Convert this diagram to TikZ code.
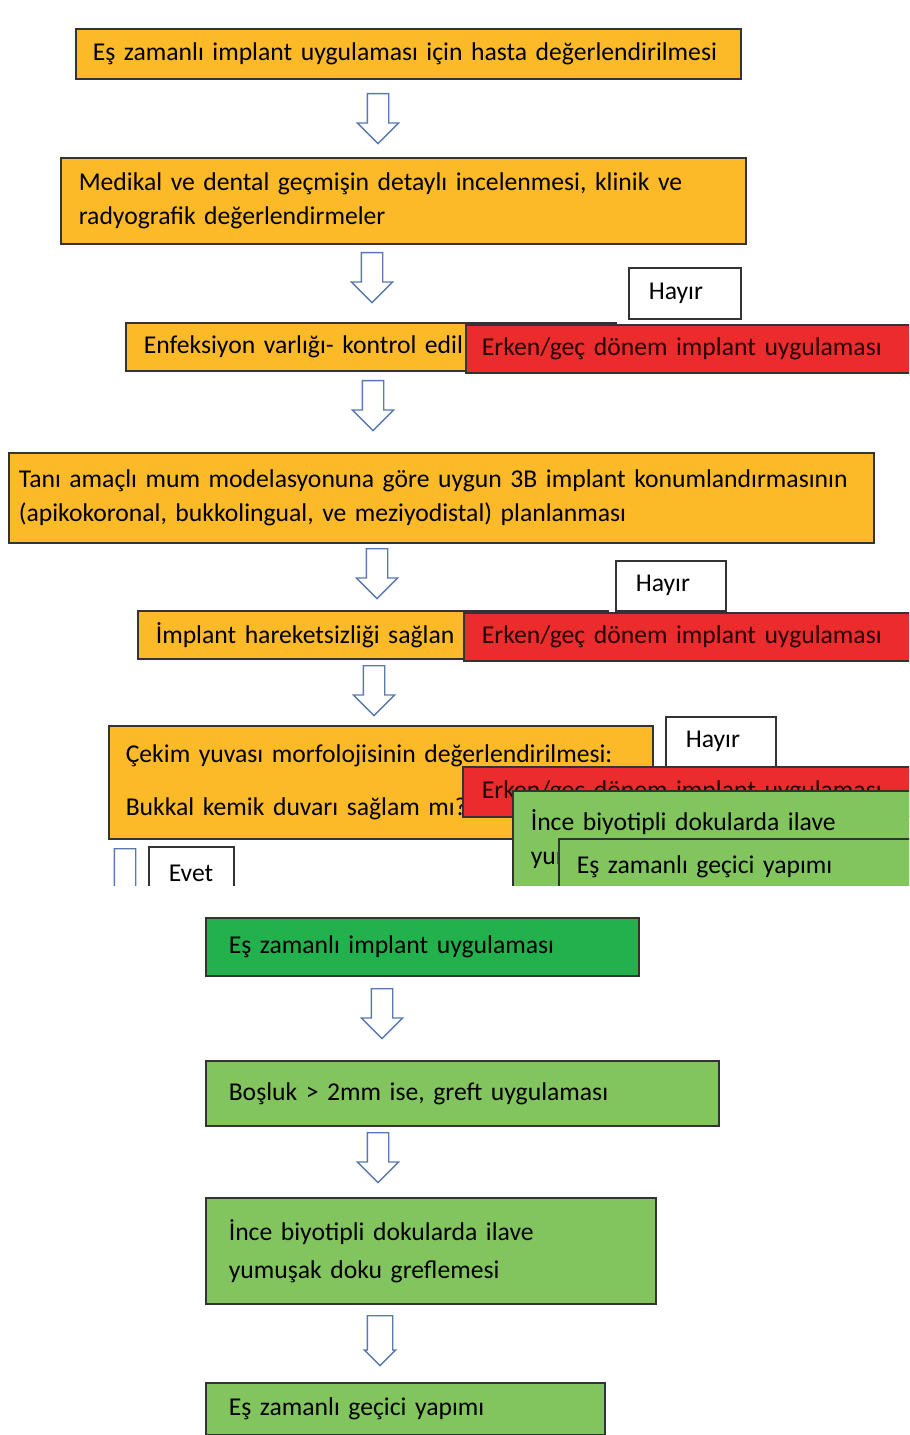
\documentclass[tikz,border=0pt]{standalone}
\usepackage{fontspec}
\setmainfont{Carlito}
\usetikzlibrary{shapes.arrows}
\newlength\px
\setlength\px{0.02cm}
\definecolor{boxorange}{RGB}{252,186,40}
\definecolor{boxred}{RGB}{236,43,45}
\definecolor{boxdkgreen}{RGB}{34,177,76}
\definecolor{boxgreen}{RGB}{130,196,94}
\definecolor{arrowblue}{RGB}{88,120,178}

\begin{document}
\begin{tikzpicture}[x=0.02cm,y=-0.02cm,
  main/.style={draw=black!80, line width=0.9pt, anchor=north west, align=left,
    inner ysep=0pt, font=\fontsize{14.6}{19.3}\selectfont},
  yellowbox/.style={main, fill=boxorange},
  redbox/.style={main, fill=boxred, text=black!85!red},
  darkbox/.style={main, fill=boxdkgreen},
  greenbox/.style={main, fill=boxgreen},
  answer/.style={main, fill=white, inner ysep=0pt, inner xsep=20\px,
    minimum height=50\px},
  blockarr/.style={single arrow, shape border rotate=270, draw=arrowblue, line width=0.8pt,
    fill=white, inner sep=10\px, minimum height=50\px,
    single arrow head extend=10\px, anchor=tail}]
  \useasboundingbox (0,0) rectangle (909,1435);

  % upper half, cut off at the bottom
  \begin{scope}
    \clip (0,0) rectangle (909,885);
    \node[yellowbox, text width=631\px, inner xsep=17\px, minimum height=50\px] (1) at (75,28)
      {Eş zamanlı implant uygulaması için hasta değerlendirilmesi};
    \node[blockarr] (a1) at (378,93) {};
    \node[yellowbox, text width=649\px, inner xsep=18\px, minimum height=86\px] (2) at (60,157)
      {Medikal ve dental geçmişin detaylı incelenmesi, klinik ve\\radyografik değerlendirmeler};
    \node[blockarr] (a2) at (372,252) {};

    \node[answer, text width=72\px, minimum height=51\px] (h1) at (628,267) {Hayır};
    \node[yellowbox, text width=454\px, inner xsep=18\px, minimum height=48\px] (3) at (125,322)
      {Enfeksiyon varlığı- kontrol edil};
    \node[redbox, text width=428\px, inner xsep=16\px, minimum height=48\px] (r1) at (465,324)
      {Erken/geç dönem implant uygulaması};
    \node[blockarr] (a3) at (373,380) {};

    \node[yellowbox, text width=845\px, inner xsep=10\px, minimum height=90\px] (4) at (8,452)
      {Tanı amaçlı mum modelasyonuna göre uygun 3B implant konumlandırmasının\\(apikokoronal, bukkolingual, ve meziyodistal) planlanması};
    \node[blockarr] (a4) at (377,548) {};

    \node[answer, text width=70\px] (h2) at (615,560) {Hayır};
    \node[yellowbox, text width=434\px, inner xsep=18\px, minimum height=48\px] (5) at (137,610)
      {İmplant hareketsizliği sağlan};
    \node[redbox, text width=424\px, inner xsep=18\px, minimum height=48\px] (r2) at (463,612)
      {Erken/geç dönem implant uygulaması};
    \node[blockarr] (a5) at (374,665) {};

    \node[yellowbox, text width=510\px, inner xsep=17\px, minimum height=113\px] (6) at (108,725)
      {Çekim yuvası morfolojisinin değerlendirilmesi:\\[10.7pt]Bukkal kemik duvarı sağlam mı?};
    \node[answer, text width=70\px] (h3) at (665,716) {Hayır};
    \node[redbox, text width=422\px, inner xsep=19\px, minimum height=50\px] (r3) at (462,766)
      {Erken/geç dönem implant uygulaması};
    \node[greenbox, text width=382\px, inner xsep=18\px, minimum height=96\px] (g1) at (512,790)
      {İnce biyotipli dokularda ilave\\yumuşak doku greflemesi};
    \node[greenbox, text width=324\px, inner xsep=18\px, minimum height=56\px] (g2) at (558,838)
      {Eş zamanlı geçici yapımı};

    \node[blockarr, single arrow head extend=0pt, minimum height=80\px] (a0) at (125,848) {};
    \node[answer, text width=45\px, minimum height=54\px] (e) at (148,846) {Evet};
  \end{scope}

  % lower half
  \node[darkbox, text width=387\px, inner xsep=23\px, minimum height=58\px] (7) at (205,917)
    {Eş zamanlı implant uygulaması};
  \node[blockarr] (a6) at (382,988) {};
  \node[greenbox, text width=467\px, inner xsep=23\px, minimum height=65\px] (8) at (205,1060)
    {Boşluk > 2mm ise, greft uygulaması};
  \node[blockarr] (a7) at (378,1132) {};
  \node[greenbox, text width=404\px, inner xsep=23\px, minimum height=106\px] (9) at (205,1197)
    {İnce biyotipli dokularda ilave\\[2.3pt]yumuşak doku greflemesi};
  \node[blockarr, inner sep=12\px, single arrow head extend=3\px] (a8) at (380,1315) {};
  \node[greenbox, text width=353\px, inner xsep=23\px, minimum height=52\px] (10) at (205,1382)
    {Eş zamanlı geçici yapımı};
\end{tikzpicture}
\end{document}
